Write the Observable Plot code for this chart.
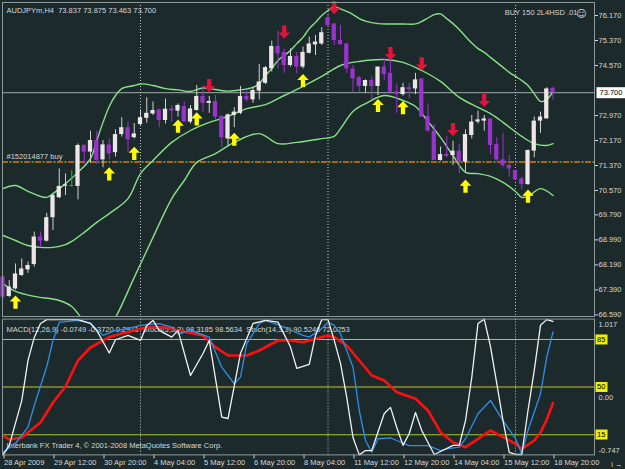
<!DOCTYPE html>
<html><head><meta charset="utf-8">
<script src="https://cdn.jsdelivr.net/npm/d3@7"></script>
<script src="https://cdn.jsdelivr.net/npm/@observablehq/plot@0.6"></script>
<style>
html,body{margin:0;padding:0;background:#1c2a2c;}
#chart{width:625px;height:469px;overflow:hidden;background:#1c2a2c;}
#chart svg{display:block;overflow:visible;}
</style></head><body><div id="chart"></div>
<script>
// ---------- DATA ----------
const open = [67.80,67.18,67.42,67.85,68.03,68.20,69.08,68.95,69.70,70.34,
70.71,70.70,70.70,72.01,71.80,72.17,71.55,72.03,71.78,72.36,
72.58,72.26,72.68,72.88,73.02,73.15,72.81,73.18,73.11,73.26,
72.76,73.13,73.58,73.36,73.42,72.94,72.22,72.97,73.04,73.58,
73.47,73.75,74.00,74.46,75.18,74.99,74.57,74.86,74.52,74.96,
75.23,75.26,76.10,75.90,75.37,75.26,74.46,74.18,73.90,74.09,
73.90,74.52,74.32,73.72,73.64,73.86,73.82,74.14,72.94,72.47,
71.53,71.72,71.69,71.83,71.48,72.33,72.76,72.79,72.86,72.04,
71.55,71.37,71.21,70.94,70.76,71.83,72.79,72.86,73.837];
const high = [67.85,67.69,68.22,68.38,68.28,69.24,69.24,69.84,70.46,71.26,
71.10,71.21,72.06,72.04,72.47,72.47,72.17,72.22,72.51,72.90,
72.76,72.71,73.15,73.54,73.40,73.18,73.50,73.29,73.34,73.40,
73.29,73.93,73.93,73.58,73.61,72.97,73.02,73.22,73.90,73.79,
73.88,74.60,74.54,75.35,75.67,75.10,75.10,74.99,75.16,75.48,
75.53,75.78,76.22,75.90,75.85,75.28,74.57,74.22,74.11,74.20,
74.52,74.78,74.73,73.98,74.00,74.00,74.32,74.14,73.34,72.68,
71.96,72.30,72.15,72.06,72.51,72.97,73.11,72.97,72.86,72.26,
72.40,71.69,71.21,70.99,71.87,72.92,73.08,73.86,73.875];
const low = [67.11,67.15,67.39,67.82,67.92,68.12,68.74,68.92,69.29,70.31,
70.41,70.68,70.27,71.40,71.44,71.40,71.30,71.55,71.64,72.28,
71.80,72.22,72.62,72.72,72.97,72.58,72.70,72.76,72.92,72.76,
72.70,73.11,73.08,73.04,72.83,71.94,71.98,72.58,73.00,73.40,
73.36,73.47,73.96,74.36,74.46,74.32,74.52,74.30,74.46,74.94,
74.89,75.21,75.82,75.21,75.21,74.32,73.72,73.72,73.68,73.45,
73.61,74.09,73.72,73.04,73.59,73.50,73.64,72.92,72.44,71.53,
71.51,71.62,71.37,71.10,71.16,72.22,72.70,72.47,71.72,71.51,
71.30,70.99,70.91,70.59,70.73,71.62,72.40,72.86,73.463];
const close = [67.16,67.48,67.90,68.06,68.17,69.08,68.95,69.70,70.41,70.70,
70.75,70.70,72.01,71.80,72.17,71.53,72.03,71.74,72.36,72.58,
72.19,72.38,72.90,73.04,73.13,72.81,73.17,73.11,73.29,72.76,
73.18,73.58,73.36,73.42,72.92,72.26,72.99,73.08,73.58,73.47,
73.77,74.04,74.50,75.18,74.94,74.57,74.86,74.52,74.99,75.26,
75.32,75.62,75.85,75.37,75.24,74.46,74.14,73.90,74.09,73.90,
74.52,74.28,73.72,73.64,73.86,73.79,74.11,72.92,72.47,71.53,
71.72,71.66,71.83,71.48,72.36,72.76,72.83,72.86,72.01,71.55,
71.37,71.26,70.91,70.76,71.85,72.79,72.92,73.82,73.700];

const upperIdx = [0,2,4,6,7,8,10,12,14,15,16,17,18,19,21,22,24,26,28,30,32,34,36,38,40,41,42,43,44,46,47,48,49,50,51,52,53,54,55,56,57,58,60,62,64,66,67,68,69,70,71,72,73,74,75,76,77,78,79,80,81,82,83,84,85,86,87,88];
const upperVal = [70.63,70.73,70.54,70.38,70.35,70.47,70.79,71.15,71.59,72.17,72.75,73.26,73.61,73.83,73.93,73.98,73.93,73.83,73.79,73.74,73.85,73.80,73.75,73.79,73.87,73.99,74.25,74.47,74.73,75.05,75.27,75.47,75.75,75.95,76.17,76.33,76.44,76.38,76.30,76.20,76.07,75.99,75.91,75.90,75.90,75.90,75.98,76.09,76.20,76.22,76.07,75.91,75.72,75.50,75.29,75.11,74.99,74.83,74.67,74.51,74.35,74.22,74.09,73.93,73.67,73.42,73.48,73.74];
const middleIdx = [0,2,4,6,8,10,11,13,15,17,20,22,24,27,30,33,36,39,42,45,48,51,54,57,61,64,67,70,73,76,78,80,83,85,87,88];
const middleVal = [69.13,68.97,68.81,68.75,68.75,68.84,68.94,69.23,69.55,69.83,70.31,71.11,71.53,72.11,72.49,72.75,72.94,73.19,73.32,73.61,73.90,74.22,74.57,74.70,74.76,74.67,74.41,74.06,73.55,73.23,73.03,72.75,72.30,72.07,72.01,72.07];
const lowerIdx = [0,2,5,9,11,12,13,14,15,16,17,18,21,24,27,29,31,34,37,41,44,47,51,53,54,56,58,61,64,66,68,70,72,74,76,78,80,82,83,84,86,88];
const lowerVal = [67.59,67.34,67.18,67.05,66.86,66.63,66.35,66.09,65.99,66.09,66.25,66.51,67.79,69.07,70.31,70.89,71.47,71.75,72.11,72.39,72.07,72.11,72.23,72.30,72.55,73.10,73.35,73.61,73.45,73.26,72.78,72.27,71.69,71.15,71.11,71.02,70.83,70.54,70.35,70.38,70.63,70.41];

const sellIdx = [33,45,53,62,67,72,77];
const sellPrice = [73.93,75.64,76.42,74.95,74.62,72.52,73.45];
const buyIdx = [2,17,21,28,31,37,48,60,64,74,84];
const buyPrice = [67.00,71.10,71.76,72.63,72.86,72.21,74.09,73.29,73.22,70.71,70.39];

const whiteIdx = [0,1,3,4,5,6,7,12,14,15,17,18,20,22,23,24,25,27,28,30,32,33,35,36,38,40,42,44,46,47,49,50,51,52,53,54,55,56,57,58,59,61,62,63,64,65,66,67,69,70,72,73,74,75,76,77,78,79,80,81,82,83,84,85,86,87,88];
const whiteVal = [0,7,40,69.6,86.5,96.8,99.6,99.6,96.8,91.7,75,84.8,88,84.3,95.3,99,91.7,86.7,91.7,58.5,74.7,84.3,27.8,26.8,74.7,96.8,99,97.8,79.4,63.7,66.6,88,99.6,99.6,84.3,67.4,42.3,12.8,0,3.2,3.2,30.5,35,20.2,7,15.8,31.2,18,0.3,2.5,7,7,25.3,57,96.8,100,79.7,52.6,25.3,1.8,0.3,0.3,32.7,62.2,95.4,99.6,98.32];
const blueIdx = [0,2,4,5,6,7,8,9,12,14,16,18,20,22,25,27,28,30,33,35,37,38,39,41,42,45,48,49,51,52,53,54,56,57,58,59,60,62,63,65,68,70,71,73,74,76,78,80,82,83,84,86,87,88];
const blueVal = [2,8.4,20.4,36.4,50.7,65.1,84.3,97.6,99,96.8,88,91.7,92.9,95.4,96.6,94.1,89.2,91.7,86.7,64.6,52.4,57.3,81.9,96.6,99,94.1,88,86.7,92.9,97.8,95.4,89.2,64.6,32.7,10.6,2,11.9,12.6,10.6,6.9,6.9,3.2,4.5,5.7,11.9,30.3,40.1,25.3,11.9,0.8,18,45,72,90.52];
const macdIdx = [0,1,3,6,8,10,11,12,14,17,19,21,23,26,28,32,34,36,39,41,44,46,48,50,52,53,55,57,59,61,63,66,68,70,72,74,76,78,80,82,83,85,86,87,88];
const macdVal = [-0.495,-0.547,-0.521,-0.326,-0.066,0.142,0.310,0.479,0.648,0.784,0.830,0.869,0.912,0.912,0.869,0.804,0.652,0.544,0.544,0.609,0.739,0.739,0.717,0.761,0.804,0.782,0.674,0.479,0.284,0.219,0.068,-0.018,-0.170,-0.452,-0.582,-0.647,-0.538,-0.430,-0.517,-0.603,-0.668,-0.560,-0.456,-0.287,-0.0749];

const yTicks = [76.170,75.370,74.570,72.970,72.170,71.370,70.570,69.790,68.990,68.190,67.390,66.590];
const xTickIdx = [0,8,16,24,32,40,48,56,64,72,80,88];
const xTickLabels = ["28 Apr 2009","29 Apr 12:00","30 Apr 20:00","4 May 04:00","5 May 12:00","6 May 20:00","8 May 04:00","11 May 12:00","12 May 20:00","14 May 04:00","15 May 12:00","18 May 20:00"];
const weekStarts = [22,52,82];
const lastPrice = 73.700;
const orderPrice = 71.48;
const stochLevels = [85,50,15];
const macdMax = 1.017, macdMin = -0.747;
const titleText = "AUDJPYm,H4  73.837 73.875 73.463 73.700";
const eaText = "BUY 150 2L4HSD .01";
const orderText = "#152014877 buy";
const subText = "MACD(12,26,9) -0.0749 -0.3720 0.2971  Stoch(5,3,3) 98.3185 98.5634  Stoch(14,3,3) 90.5246 72.0253";
const copyText = "Interbank FX Trader 4, \u00a9 2001-2008 MetaQuotes Software Corp.";

// ---------- RENDER ----------
const font = "'Liberation Sans', Arial, sans-serif";
const txt = "#d6d8d8";
const frameC = "#8e9a9a";
const xDomain = [-0.08, 94.64];
const pts = (idx, val) => idx.map((i, k) => ({i, v: val[k]}));
const bars = open.map((o, i) => ({i, o, h: high[i], l: low[i], c: close[i]}));
const kind = d => d.c > d.o ? "up" : d.c < d.o ? "down" : "doji";
const wickC = {up: "#cfd0d0", down: "#9a33cc", doji: "#19c819"};
const bodyC = {up: "#eee6e6", down: "#9a33cc", doji: "#19c819"};

function arrow(up) {
  return {draw(ctx, size) {
    const s = Math.sqrt(size / Math.PI) / 5;
    const p = [[0,-5.5],[4.8,-0.4],[1.8,-0.4],[1.8,5.5],[-1.8,5.5],[-1.8,-0.4],[-4.8,-0.4]];
    p.forEach(([a, b], k) => { const X = a * s, Y = (up ? b : -b) * s; k ? ctx.lineTo(X, Y) : ctx.moveTo(X, Y); });
    ctx.closePath();
  }};
}
const box = (x0, w, h) => ({draw(ctx) { ctx.rect(x0, -h / 2, w, h); }});

const style = {background: "transparent", color: txt, fontFamily: font, fontSize: "7.5px", overflow: "visible"};

const main = Plot.plot({
  width: 625, height: 317,
  marginLeft: 2, marginRight: 31, marginTop: 2, marginBottom: 1,
  style,
  x: {domain: xDomain, axis: null},
  y: {domain: [66.538, 76.586]},
  marks: [
    Plot.ruleY([lastPrice], {stroke: "#9ea8a8", strokeWidth: 1}),
    Plot.ruleX(weekStarts, {stroke: "#c4caca", strokeDasharray: "1,2"}),
    Plot.ruleY([orderPrice], {stroke: "#e07a00", strokeDasharray: "6,5", strokeWidth: 1.6}),
    Plot.ruleY([orderPrice], {stroke: "#78b838", strokeDasharray: "0,7.5,2,1.5", strokeWidth: 1.6}),
    Plot.text([orderText], {frameAnchor: "left", y: () => orderPrice, text: d => d, dx: 4, dy: -5, textAnchor: "start", fill: txt}),
    Plot.line(pts(upperIdx, upperVal), {x: "i", y: "v", stroke: "#88e088", strokeWidth: 1.4, curve: "catmull-rom", clip: true}),
    Plot.line(pts(middleIdx, middleVal), {x: "i", y: "v", stroke: "#88e088", strokeWidth: 1.4, curve: "catmull-rom", clip: true}),
    Plot.line(pts(lowerIdx, lowerVal), {x: "i", y: "v", stroke: "#88e088", strokeWidth: 1.4, curve: "catmull-rom", clip: true}),
    Plot.ruleX(bars, {x: "i", y1: "l", y2: "h", stroke: d => wickC[kind(d)], strokeWidth: 1}),
    Plot.rect(bars, {
      x1: d => d.i - 0.34, x2: d => d.i + 0.34,
      y1: d => Math.min(d.o, d.c), y2: d => Math.max(d.o, d.c) + (Math.abs(d.o - d.c) < 0.03 ? 0.03 : 0),
      fill: d => bodyC[kind(d)]
    }),
    Plot.dot(pts(sellIdx, sellPrice), {x: "i", y: "v", symbol: arrow(false), r: 6, fill: "#e0143c", stroke: "none"}),
    Plot.dot(pts(buyIdx, buyPrice), {x: "i", y: "v", symbol: arrow(true), r: 6, fill: "#ffff00", stroke: "none"}),
    Plot.text([titleText], {frameAnchor: "top-left", text: d => d, dx: 4, dy: 5, textAnchor: "start", fill: txt}),
    Plot.text([eaText], {frameAnchor: "top-right", text: d => d, dx: -17, dy: 7, textAnchor: "end", fill: txt}),
    Plot.text(["\u263A"], {frameAnchor: "top-right", text: d => d, dx: -8, dy: 7, fontSize: 10, fontFamily: "DejaVu Sans", fill: txt}),
    Plot.axisY({anchor: "right", ticks: yTicks, tickSize: 3, tickPadding: 1, tickFormat: d => d.toFixed(3), fill: txt}),
    Plot.dot([lastPrice], {y: d => d, frameAnchor: "right", symbol: box(2, 29, 11), r: 1, fill: "#ffffff", stroke: "none"}),
    Plot.text([lastPrice], {y: d => d, frameAnchor: "right", text: d => d.toFixed(3), dx: 5, textAnchor: "start", fill: "#000000"}),
    Plot.frame({stroke: frameC})
  ]
});

const toStoch = m => (m - macdMin) / (macdMax - macdMin) * 100;

const sub = Plot.plot({
  width: 625, height: 152,
  marginLeft: 2, marginRight: 31, marginTop: 1.6, marginBottom: 14.6,
  style,
  x: {domain: xDomain, axis: null},
  y: {domain: [0, 100], axis: null},
  marks: [
    Plot.ruleY([85, 50], {stroke: "#c4c42a", strokeWidth: 1}),
    Plot.ruleY([15], {stroke: "#a4a420", strokeWidth: 1.2}),
    Plot.ruleY([15], {stroke: "#5e9c34", strokeDasharray: "2,2", strokeWidth: 1.2}),
    Plot.ruleX(weekStarts, {stroke: "#c4caca", strokeDasharray: "1,2"}),
    Plot.text([subText], {frameAnchor: "top-left", text: d => d, dx: 4, dy: 7.5, textAnchor: "start", fill: txt}),
    Plot.text([copyText], {frameAnchor: "bottom-left", text: d => d, dx: 4, dy: -7, textAnchor: "start", fill: txt}),
    Plot.line(pts(macdIdx, macdVal), {x: "i", y: d => toStoch(d.v), stroke: "#ff1010", strokeWidth: 2.6}),
    Plot.line(pts(blueIdx, blueVal), {x: "i", y: "v", stroke: "#2f8ee8", strokeWidth: 1.3}),
    Plot.line(pts(whiteIdx, whiteVal), {x: "i", y: "v", stroke: "#f2f2f2", strokeWidth: 1.3}),
    Plot.dot(stochLevels, {y: d => d, frameAnchor: "right", symbol: box(1, 12, 10), r: 1, fill: "#f0f000", stroke: "none"}),
    Plot.text(stochLevels, {y: d => d, frameAnchor: "right", text: d => String(d), dx: 2.5, textAnchor: "start", fill: "#000000"}),
    Plot.text([macdMax], {y: () => 100, frameAnchor: "right", text: d => d.toFixed(3), dx: 4, dy: 5.5, textAnchor: "start", fill: txt}),
    Plot.text([0], {y: () => toStoch(0), frameAnchor: "right", text: d => d.toFixed(2), dx: 4, textAnchor: "start", fill: txt}),
    Plot.text([macdMin], {y: () => 0, frameAnchor: "right", text: d => d.toFixed(3), dx: 4, dy: -4.5, textAnchor: "start", fill: txt}),
    Plot.axisX({anchor: "bottom", ticks: xTickIdx, tickFormat: d => xTickLabels[xTickIdx.indexOf(d)], tickSize: 4, tickPadding: 1, textAnchor: "start", dx: 1, fill: txt}),
    Plot.frame({stroke: frameC})
  ]
});

const root = document.getElementById("chart");
root.appendChild(main);
root.appendChild(sub);
</script></body></html>
